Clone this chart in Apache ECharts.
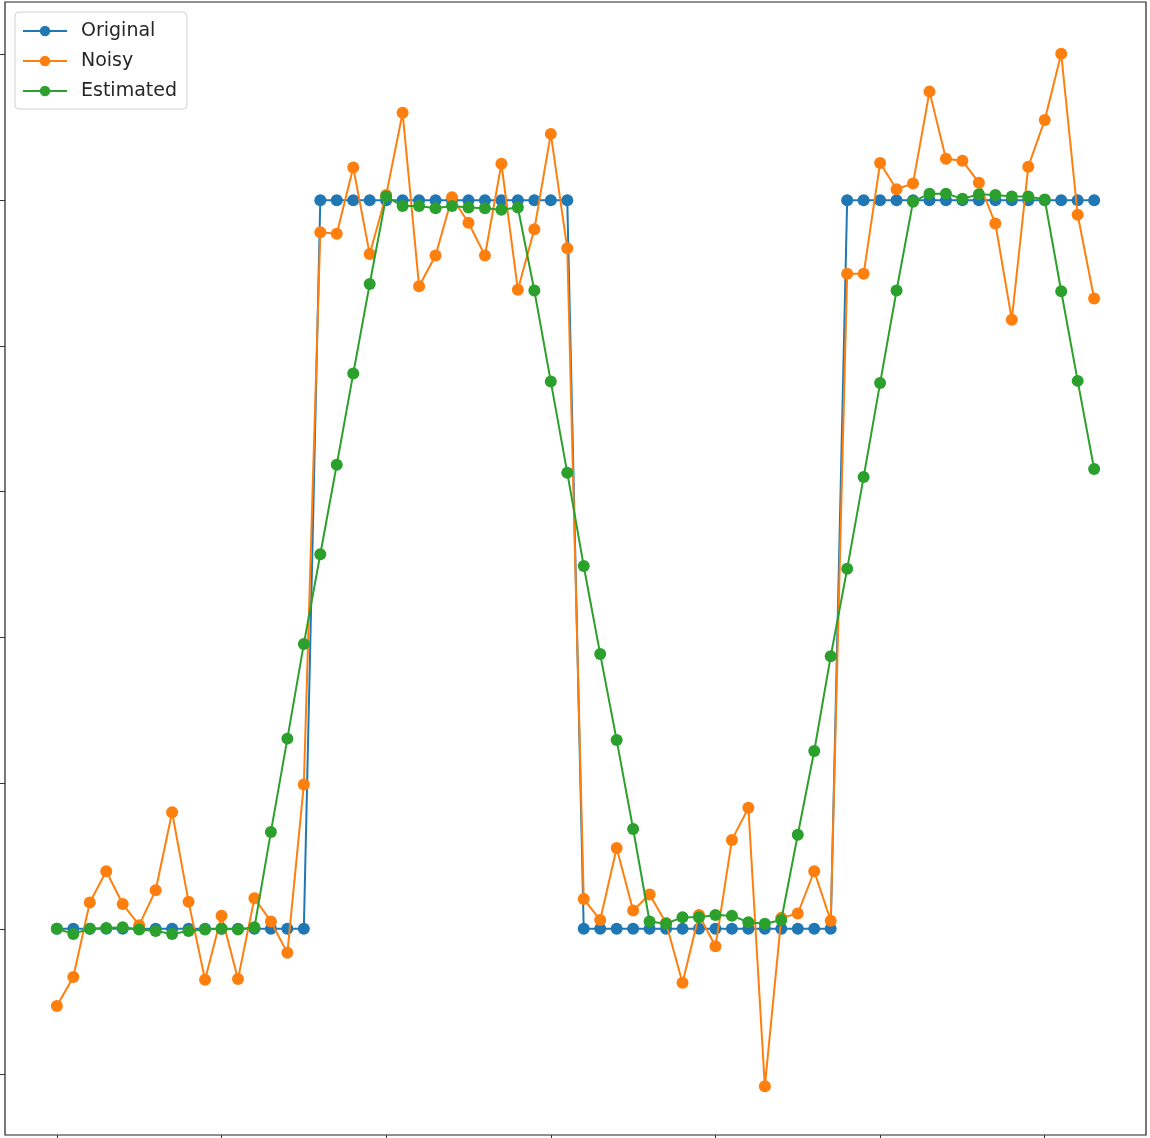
<!DOCTYPE html>
<html>
<head>
<meta charset="utf-8">
<script src="https://cdn.jsdelivr.net/npm/echarts@6/dist/echarts.min.js"></script>
<style>
html,body{margin:0;padding:0;background:#fff;}
#chart{width:1150px;height:1138px;}
</style>
</head>
<body>
<div id="chart"></div>
<script>
// ---- data (index 0..63) ----
const seriesNames = ['Original', 'Noisy', 'Estimated'];
const original = [
  0,0,0,0,0,0,0,0,0,0,0,0,0,0,0,0,
  1,1,1,1,1,1,1,1,1,1,1,1,1,1,1,1,
  0,0,0,0,0,0,0,0,0,0,0,0,0,0,0,0,
  1,1,1,1,1,1,1,1,1,1,1,1,1,1,1,1
];
const noisy = [
  -0.106,-0.066,0.036,0.079,0.034,0.005,0.053,0.160,0.037,-0.070,0.018,-0.069,0.042,0.010,-0.033,0.198,
  0.956,0.954,1.045,0.926,1.007,1.120,0.882,0.924,1.004,0.969,0.924,1.050,0.877,0.960,1.091,0.934,
  0.041,0.012,0.111,0.025,0.047,0.008,-0.074,0.019,-0.024,0.122,0.166,-0.216,0.015,0.021,0.079,0.011,
  0.899,0.899,1.051,1.015,1.023,1.149,1.057,1.054,1.024,0.968,0.836,1.046,1.110,1.201,0.980,0.865
];
const estimated = [
  0.000,-0.007,0.000,0.001,0.002,-0.001,-0.003,-0.007,-0.003,-0.001,0.000,-0.001,0.002,0.133,0.261,0.391,
  0.514,0.637,0.762,0.885,1.005,0.992,0.992,0.989,0.992,0.990,0.989,0.987,0.990,0.876,0.751,0.626,
  0.498,0.377,0.259,0.137,0.010,0.007,0.016,0.016,0.019,0.018,0.009,0.007,0.012,0.129,0.244,0.374,
  0.494,0.620,0.749,0.876,0.998,1.009,1.009,1.002,1.008,1.007,1.005,1.005,1.001,0.875,0.752,0.631
];
const xTicks = [0, 10, 20, 30, 40, 50, 60];
const yTicks = [-0.2, 0, 0.2, 0.4, 0.6, 0.8, 1.0, 1.2];

const colors = ['#1f77b4', '#ff7f0e', '#2ca02c'];
const toPairs = arr => arr.map((v, i) => [i, v]);
const allData = [original, noisy, estimated];

const chart = echarts.init(document.getElementById('chart'), null, {renderer: 'canvas'});
chart.setOption({
  animation: false,
  backgroundColor: '#fff',
  color: colors,
  grid: {
    left: 5, right: 4, top: 2, bottom: 3,
    show: true, borderColor: '#222', borderWidth: 1.2, backgroundColor: 'transparent'
  },
  legend: {
    left: 15, top: 12,
    orient: 'vertical',
    data: seriesNames,
    backgroundColor: 'rgba(255,255,255,0.85)',
    borderColor: '#d0d0d0', borderWidth: 1, borderRadius: 4,
    padding: [9, 10, 8, 7],
    itemWidth: 44, itemHeight: 13, itemGap: 10,
    textStyle: {fontFamily: 'DejaVu Sans', fontSize: 19, color: '#262626', lineHeight: 20, padding: [0, 0, 0, 9]}
  },
  xAxis: {
    type: 'value', min: -3.15, max: 66.15,
    axisLine: {show: false, onZero: false},
    splitLine: {show: false},
    axisLabel: {show: false},
    axisTick: {show: true, inside: false, length: 5, customValues: xTicks, lineStyle: {color: '#333'}}
  },
  yAxis: {
    type: 'value', min: -0.283, max: 1.272,
    axisLine: {show: false, onZero: false},
    splitLine: {show: false},
    axisLabel: {show: false},
    axisTick: {show: true, inside: false, length: 5, customValues: yTicks, lineStyle: {color: '#333'}}
  },
  series: seriesNames.map((name, k) => ({
    name: name,
    type: 'line',
    data: toPairs(allData[k]),
    symbol: 'circle',
    symbolSize: 12,
    showAllSymbol: true,
    lineStyle: {width: 2, color: colors[k]},
    itemStyle: {color: colors[k], borderWidth: 0},
    z: 2 + k
  }))
});
</script>
</body>
</html>
